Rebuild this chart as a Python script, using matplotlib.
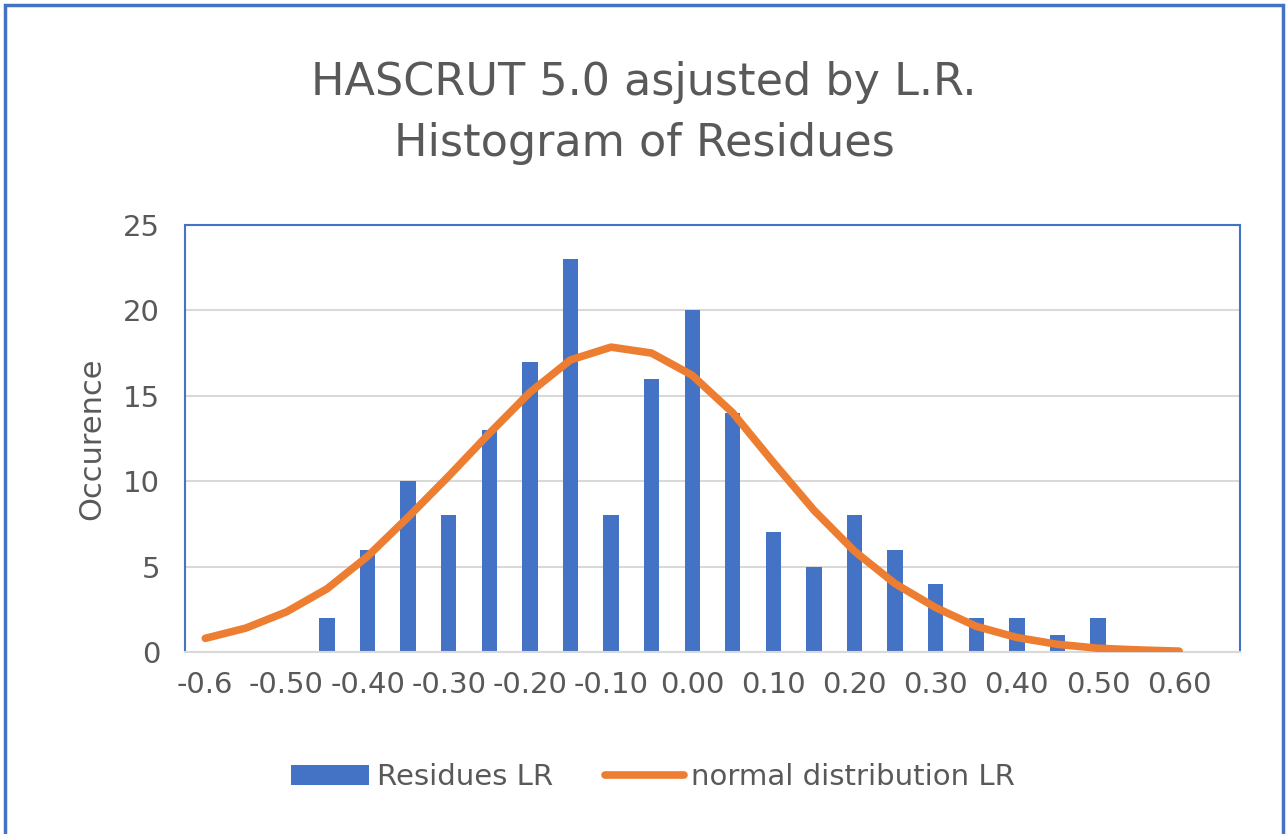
import matplotlib.pyplot as plt
import matplotlib.patches as mpatches
import numpy as np

# histogram bins (centres) and counts
bins = [-0.60, -0.55, -0.50, -0.45, -0.40, -0.35, -0.30, -0.25, -0.20, -0.15,
        -0.10, -0.05, 0.00, 0.05, 0.10, 0.15, 0.20, 0.25, 0.30, 0.35,
        0.40, 0.45, 0.50, 0.55, 0.60]
residues_lr = [0, 0, 0, 2, 6, 10, 8, 13, 17, 23,
               8, 16, 20, 14, 7, 5, 8, 6, 4, 2,
               2, 1, 2, 0, 0]
normal_lr = [0.8, 1.4, 2.35, 3.7, 5.6, 7.9, 10.3, 12.8, 15.2, 17.1,
             17.85, 17.5, 16.2, 14.0, 11.1, 8.3, 5.9, 4.0, 2.6, 1.5,
             0.85, 0.45, 0.22, 0.12, 0.05]
tick_labels = ['-0.6', '-0.50', '-0.40', '-0.30', '-0.20', '-0.10', '0.00',
               '0.10', '0.20', '0.30', '0.40', '0.50', '0.60']

BLUE = '#4472C4'
ORANGE = '#ED7D31'
TEXT = '#595959'

plt.rcParams['font.family'] = ['DejaVu Sans']

fig = plt.figure(figsize=(12.88, 8.34), dpi=100)
ax = fig.add_axes([185 / 1288, 1 - 652 / 834, (1240 - 185) / 1288, (652 - 225) / 834])

x = np.arange(len(bins))
bars = ax.bar(x, residues_lr, width=0.38, color=BLUE, label='Residues LR', zorder=2)
line, = ax.plot(x, normal_lr, color=ORANGE, lw=5.5, solid_capstyle='round',
                solid_joinstyle='round', label='normal distribution LR', zorder=3)

ax.set_xlim(-0.5, len(bins) + 0.5)
ax.set_ylim(0, 25)
ax.set_yticks(range(0, 26, 5))
ax.set_xticks(x[::2])
ax.set_xticklabels(tick_labels)
ax.tick_params(axis='both', length=0, labelsize=21, colors=TEXT)
ax.tick_params(axis='x', pad=14)
ax.tick_params(axis='y', pad=18)
ax.yaxis.grid(True, color='#D9D9D9', lw=1.5, zorder=0)
ax.set_axisbelow(True)

for side in ['top', 'left', 'right']:
    ax.spines[side].set_color(BLUE)
    ax.spines[side].set_linewidth(1.5)
ax.spines['bottom'].set_color('#D9D9D9')
ax.spines['bottom'].set_linewidth(1.5)

ax.set_ylabel('Occurence', fontsize=22, color=TEXT, labelpad=12)

fig.text(0.5, 1 - 113 / 834, 'HASCRUT 5.0 asjusted by L.R.\nHistogram of Residues',
         ha='center', va='center', fontsize=32, color=TEXT, linespacing=1.55)

fig.legend([bars, line], ['Residues LR', 'normal distribution LR'],
           loc='center', bbox_to_anchor=(0.507, 1 - 777 / 834), ncol=2,
           frameon=False, fontsize=21, labelcolor=TEXT, handlelength=2.7,
           handletextpad=0.25, columnspacing=1.8)

# outer chart border
fig.patches.append(mpatches.Rectangle((5 / 1288, -0.02), 1278 / 1288, 1 - 5 / 834 + 0.02,
                                      transform=fig.transFigure, fill=False,
                                      edgecolor=BLUE, lw=2.5))

fig.savefig('out.png', dpi=100)
